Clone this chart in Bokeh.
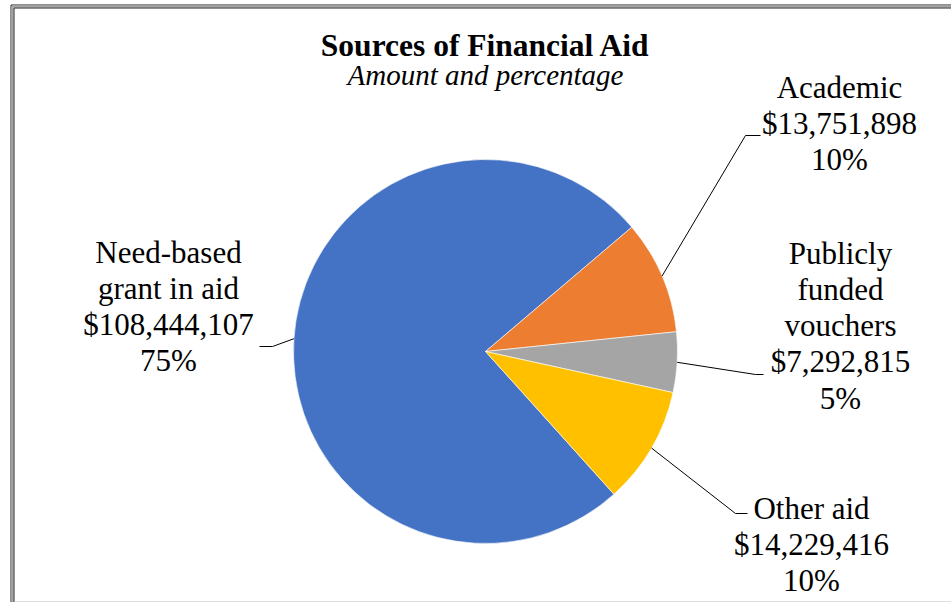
import math
from bokeh.plotting import figure
from bokeh.models import Range1d
from bokeh.core.properties import value
from bokeh.embed import file_html
from bokeh.resources import INLINE

# ---- data ----
categories = ["Need-based grant in aid", "Academic", "Publicly funded vouchers", "Other aid"]
label_lines = [["Need-based", "grant in aid"], ["Academic"], ["Publicly", "funded", "vouchers"], ["Other aid"]]
amounts = [108444107, 13751898, 7292815, 14229416]
colors = ["#4472C4", "#ED7D31", "#A5A5A5", "#FFC000"]
title = "Sources of Financial Aid"
subtitle = "Amount and percentage"

# ---- layout (pixel space of the page) ----
CX, CY, R = 485.0, 351.0, 192.0
FIRST_SLICE_DEG = 138.0          # clockwise from 12 o'clock
TEXT_SHIFT = 10.5                # renderer baseline correction
label_anchor = [(168, 262), (839, 97), (840, 263), (811, 518)]   # centre x, first baseline
line_gap = 36.3
elbows = [((272, 346), (259, 346)), ((745, 135), (760, 135)),
          ((755, 374), (763, 374)), ((735, 513), (747, 513))]
FONT = "Liberation Serif"

W, H = 951, 602
p = figure(width=W, height=H, x_range=Range1d(0, W), y_range=Range1d(-H, 0),
           output_backend="svg", toolbar_location=None, min_border=0)
p.axis.visible = False
p.grid.visible = False
p.outline_line_color = None
p.background_fill_color = "white"

total = float(sum(amounts))
S = math.radians(90.0 - FIRST_SLICE_DEG)
cum = 0.0
starts, ends, mids = [], [], []
for a in amounts:
    a0 = S - 2 * math.pi * cum
    cum += a / total
    a1 = S - 2 * math.pi * cum
    starts.append(a1)
    ends.append(a0)
    mids.append((a0 + a1) / 2)

p.wedge(x=[CX] * len(amounts), y=[-CY] * len(amounts), radius=R,
        start_angle=starts, end_angle=ends, direction="anticlock",
        fill_color=colors, line_color="white", line_width=0.6)

# leader lines
for i, m in enumerate(mids):
    ex = CX + R * math.cos(m)
    ey = CY - R * math.sin(m)
    (bx, by), (tx, ty) = elbows[i]
    p.line(x=[ex, bx, tx], y=[-ey, -by, -ty], line_color="black", line_width=1)

# labels
for i, lines in enumerate(label_lines):
    pct = round(amounts[i] / total * 100)
    all_lines = lines + [f"${amounts[i]:,}", f"{pct}%"]
    lx, ly = label_anchor[i]
    p.text(x=[lx] * len(all_lines),
           y=[-(ly - TEXT_SHIFT + k * line_gap) for k in range(len(all_lines))],
           text=all_lines, text_font=value(FONT), text_font_size="31px",
           text_align="center", text_baseline="alphabetic", text_color="black")

# title
p.text(x=[485], y=[-(55 - TEXT_SHIFT)], text=[title], text_font=value(FONT), text_font_size="31.5px",
       text_font_style="bold", text_align="center", text_baseline="alphabetic", text_color="black")
p.text(x=[485], y=[-(85 - TEXT_SHIFT)], text=[subtitle], text_font=value(FONT), text_font_size="29px",
       text_font_style="italic", text_align="center", text_baseline="alphabetic", text_color="black")

# chart border (double line on left and top, light line at bottom)
p.line(x=[10.5, 10.5, W], y=[-H, -4.5, -4.5], line_color="#222222", line_width=1)
p.line(x=[12, 12, W], y=[-H, -6, -6], line_color="#A6A6A6", line_width=2)
p.line(x=[13.5, 13.5, W], y=[-H, -7.5, -7.5], line_color="#222222", line_width=1)
p.line(x=[13.5, W], y=[-601.5, -601.5], line_color="#BFBFBF", line_width=1)

open("out.html", "w").write(file_html(p, INLINE))
